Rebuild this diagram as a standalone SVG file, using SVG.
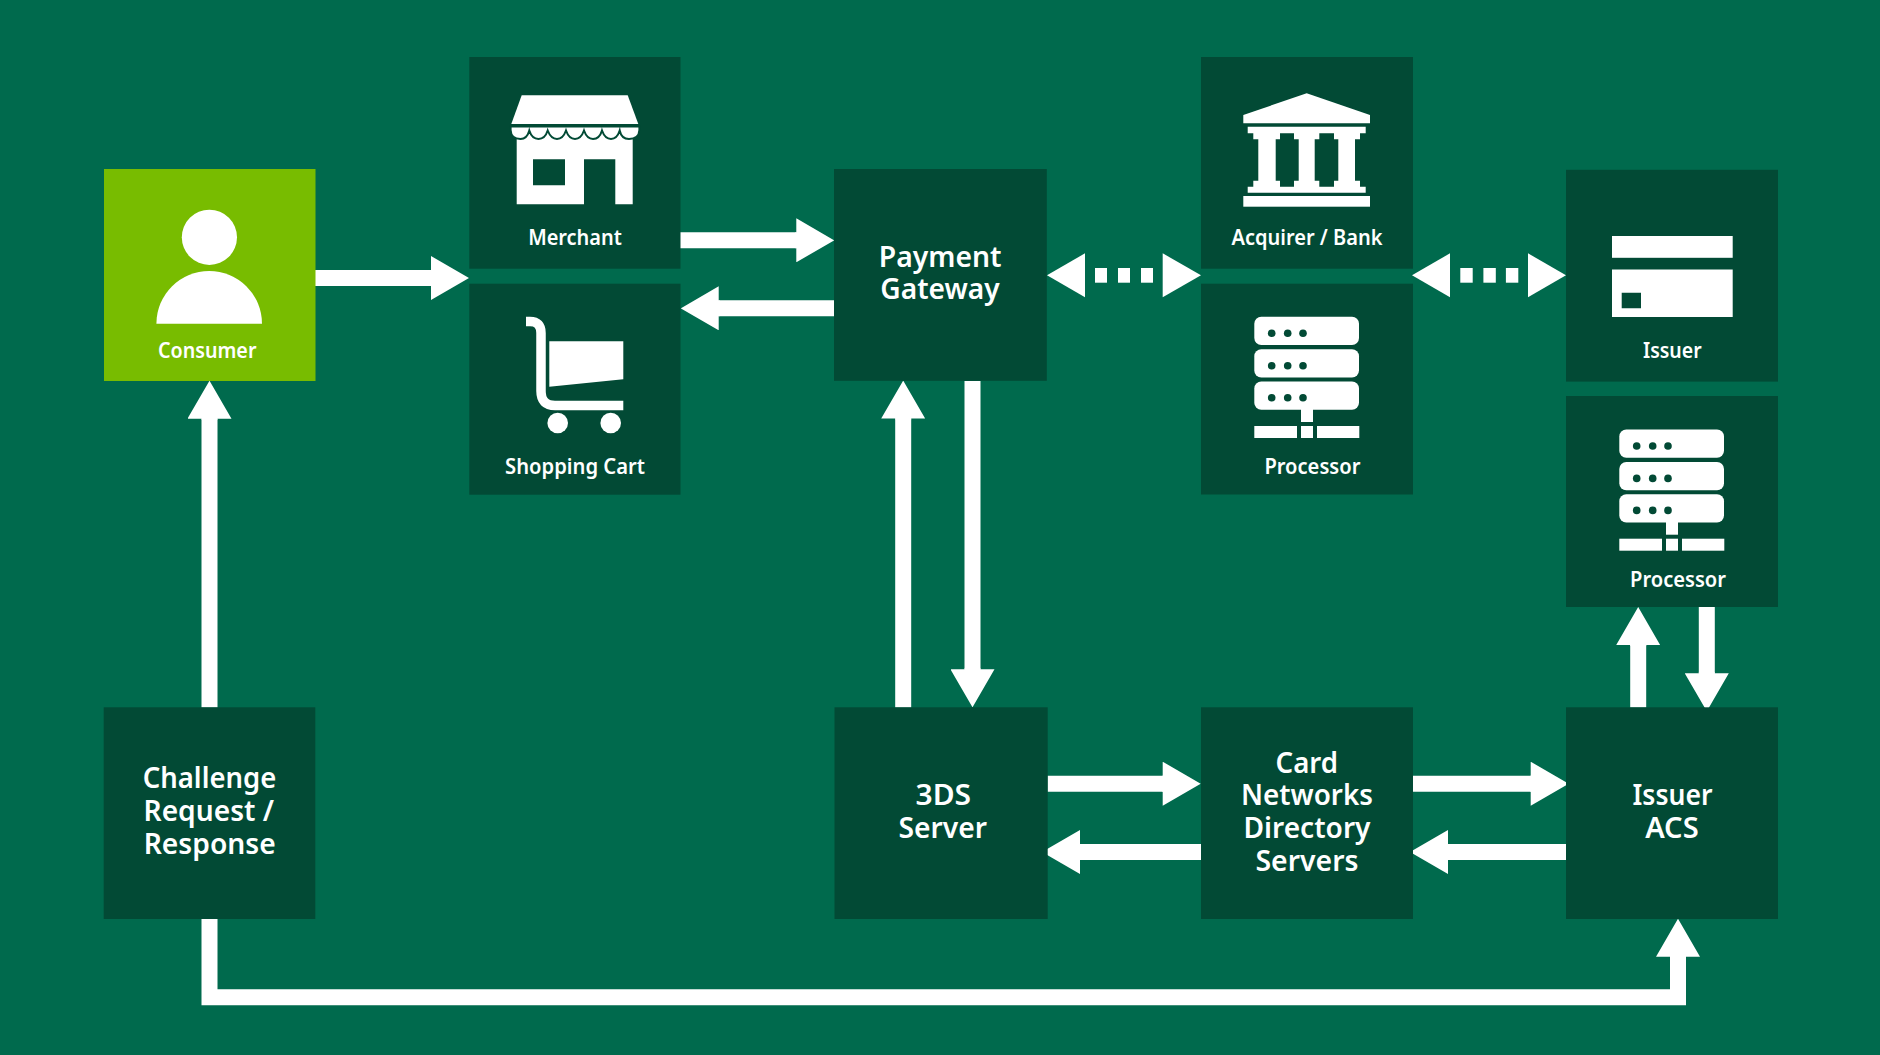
<svg xmlns="http://www.w3.org/2000/svg" width="1880" height="1055" viewBox="0 0 1880 1055">
<style>
.node{fill:#024A35}
.green{fill:#78BC00}
.ico{fill:#fff}
.hole{fill:#024A35}
.conn{stroke:#fff;stroke-width:16;fill:none;marker-end:url(#head)}
.dot{fill:#fff}
text{font-family:"Noto Sans","Open Sans","Liberation Sans",sans-serif;fill:#fff;text-anchor:middle;font-weight:600}
.s{font-size:21px}
.b{font-size:29px}
</style>
<defs>
<marker id="head" markerUnits="userSpaceOnUse" markerWidth="39" markerHeight="44" viewBox="0 0 39 44" refX="1" refY="22" orient="auto"><path d="M0 14H1V0L39 22L1 44V30H0Z" fill="#fff"/></marker>
<g id="server">
<rect class="ico" x="1254.3" y="316.7" width="104.7" height="28.3" rx="7"/>
<rect class="ico" x="1254.3" y="349.2" width="104.7" height="28.3" rx="7"/>
<rect class="ico" x="1254.3" y="381.5" width="104.7" height="28.3" rx="7"/>
<g class="hole">
<circle cx="1271.7" cy="333.3" r="3.8"/><circle cx="1287.7" cy="333.3" r="3.8"/><circle cx="1303" cy="333.3" r="3.8"/>
<circle cx="1271.7" cy="365.7" r="3.8"/><circle cx="1287.7" cy="365.7" r="3.8"/><circle cx="1303" cy="365.7" r="3.8"/>
<circle cx="1271.7" cy="397.7" r="3.8"/><circle cx="1287.7" cy="397.7" r="3.8"/><circle cx="1303" cy="397.7" r="3.8"/>
</g>
<rect class="ico" x="1301" y="409" width="12" height="13"/>
<rect class="ico" x="1254.3" y="426" width="42.7" height="12"/>
<rect class="ico" x="1301" y="426" width="12" height="12"/>
<rect class="ico" x="1317" y="426" width="42.3" height="12"/>
</g>
</defs>
<rect width="1880" height="1055" fill="#006A4D"/>
<g id="connectors">
<line class="conn" x1="315" y1="278" x2="431" y2="278"/>
<line class="conn" x1="680" y1="240.3" x2="796.3" y2="240.3"/>
<line class="conn" x1="834" y1="308.3" x2="718.7" y2="308.3"/>
<line class="conn" x1="903.2" y1="707.5" x2="903.2" y2="418.6"/>
<line class="conn" x1="972.5" y1="381" x2="972.5" y2="669.3"/>
<line class="conn" x1="1047.5" y1="783.7" x2="1162.7" y2="783.7"/>
<line class="conn" x1="1201" y1="852" x2="1080" y2="852"/>
<line class="conn" x1="1413" y1="783.7" x2="1530.7" y2="783.7"/>
<line class="conn" x1="1566" y1="852" x2="1448" y2="852"/>
<line class="conn" x1="1638.2" y1="707.5" x2="1638.2" y2="645"/>
<line class="conn" x1="1706.8" y1="607" x2="1706.8" y2="673.3"/>
<line class="conn" x1="209.5" y1="707.5" x2="209.5" y2="418.7"/>
<path class="conn" d="M209.5 919V997.3H1678V956.7"/>
<g id="dotted-gateway-acquirer">
<polygon class="dot" points="1085,253.3 1047,275.3 1085,297.3"/>
<rect class="dot" x="1095" y="268" width="12" height="14.7"/><rect class="dot" x="1118" y="268" width="12" height="14.7"/><rect class="dot" x="1141" y="268" width="12" height="14.7"/>
<polygon class="dot" points="1162.7,253.3 1201,275.3 1162.7,297.3"/>
</g>
<g id="dotted-acquirer-issuer">
<polygon class="dot" points="1450,253.3 1412,275.3 1450,297.3"/>
<rect class="dot" x="1460.3" y="268" width="12.4" height="14.7"/><rect class="dot" x="1483.4" y="268" width="12.4" height="14.7"/><rect class="dot" x="1505.9" y="268" width="12.4" height="14.7"/>
<polygon class="dot" points="1528,253.3 1566,275.3 1528,297.3"/>
</g>
</g>
<g id="consumer">
<rect class="green" x="104" y="169" width="211.5" height="212"/>
<circle class="ico" cx="209.4" cy="237.3" r="27.6"/>
<path class="ico" d="M156.4 323.7A52.8 52.7 0 0 1 262 323.7Z"/>
<text class="s" x="207.2" y="358" textLength="98.5" lengthAdjust="spacingAndGlyphs">Consumer</text>
</g>
<g id="merchant">
<rect class="node" x="469.3" y="57" width="211.2" height="211.7"/>
<path class="ico" d="M521.7 95.3H627.7L638.3 124H511.3Z"/>
<path class="ico" fill-rule="evenodd" d="M516.7 130H632.7V204.3H615.3V159.3H584V204.3H516.7ZM533 159.3V185.3H565V159.3Z"/>
<path class="ico" stroke="#024A35" stroke-width="2" d="M510.6 126.5H639.4V130Q639 139 629 139Q621.5 139 619.7 130.5Q617 139 611 139Q605 139 602 130.5Q599.5 139 593 139Q587 139 584 130.5Q581 139 575 139Q569 139 566 130.5Q563 139 557 139Q551 139 547.7 130.5Q545 139 538.5 139Q532 139 529.3 130.5Q527 139 520.5 139Q511 139 510.6 130Z"/>
<text class="s" x="575" y="245" textLength="93.7" lengthAdjust="spacingAndGlyphs">Merchant</text>
</g>
<g id="shopping-cart">
<rect class="node" x="469.3" y="283.7" width="211.2" height="211"/>
<path d="M526 321.5H530Q541 321.5 541 333V391Q541 405.5 555 405.5H623.3" fill="none" stroke="#fff" stroke-width="9.5"/>
<path class="ico" d="M549.3 341.3H623.3V379.3L549.3 386.7Z"/>
<circle class="ico" cx="557.7" cy="423" r="10.3"/>
<circle class="ico" cx="610.7" cy="423" r="10.3"/>
<text class="s" x="575" y="474" textLength="139.8" lengthAdjust="spacingAndGlyphs">Shopping Cart</text>
</g>
<g id="payment-gateway">
<rect class="node" x="834" y="169" width="212.8" height="211.8"/>
<text class="b" x="940.2" y="266.7" textLength="122.7" lengthAdjust="spacingAndGlyphs">Payment</text>
<text class="b" x="940" y="299" textLength="119.3" lengthAdjust="spacingAndGlyphs">Gateway</text>
</g>
<g id="acquirer-bank">
<rect class="node" x="1201" y="57" width="212" height="211.7"/>
<path class="ico" d="M1306.7 93.3L1370 115V123.3H1243.3V115Z"/>
<path class="ico" d="M1247.7 126.7H1365.7V133.3H1360V139.3H1355V180.7H1360V186.7H1365.7V192.7H1247.7V186.7H1253.3V180.7H1258.3V139.3H1253.3V133.3H1247.7Z"/>
<path class="hole" d="M1275.7 139.3H1280V133.3H1294V139.3H1298.7V180.7H1294V186.7H1280V180.7H1275.7Z"/>
<path class="hole" d="M1314.7 139.3H1319.3V133.3H1334V139.3H1338.3V180.7H1334V186.7H1319.3V180.7H1314.7Z"/>
<rect class="ico" x="1243.3" y="196" width="126.7" height="10.7"/>
<text class="s" x="1307" y="245" textLength="151" lengthAdjust="spacingAndGlyphs">Acquirer / Bank</text>
</g>
<g id="processor-acquirer">
<rect class="node" x="1201" y="283.7" width="212" height="210.8"/>
<use href="#server"/>
<text class="s" x="1312.4" y="473.8" textLength="96" lengthAdjust="spacingAndGlyphs">Processor</text>
</g>
<g id="issuer">
<rect class="node" x="1566" y="169.8" width="212" height="211.8"/>
<rect class="ico" x="1612" y="236" width="120.7" height="21.8"/>
<path class="ico" fill-rule="evenodd" d="M1612 269.5H1732.7V316.9H1612ZM1621.7 292.8V308.3H1641V292.8Z"/>
<text class="s" x="1672.3" y="357.9" textLength="58.7" lengthAdjust="spacingAndGlyphs">Issuer</text>
</g>
<g id="processor-issuer">
<rect class="node" x="1566" y="396" width="212" height="211"/>
<use href="#server" transform="translate(365 112.7)"/>
<text class="s" x="1678" y="587" textLength="96" lengthAdjust="spacingAndGlyphs">Processor</text>
</g>
<g id="challenge">
<rect class="node" x="103.7" y="707.3" width="211.6" height="211.7"/>
<text class="b" x="209.5" y="788" textLength="133.5" lengthAdjust="spacingAndGlyphs">Challenge</text>
<text class="b" x="208.8" y="821" textLength="130.5" lengthAdjust="spacingAndGlyphs">Request /</text>
<text class="b" x="209.7" y="853.6" textLength="132" lengthAdjust="spacingAndGlyphs">Response</text>
</g>
<g id="threeds-server">
<rect class="node" x="834.5" y="707.3" width="213.2" height="211.7"/>
<text class="b" x="943.3" y="805" textLength="55.5" lengthAdjust="spacingAndGlyphs">3DS</text>
<text class="b" x="942.8" y="838" textLength="88.5" lengthAdjust="spacingAndGlyphs">Server</text>
</g>
<g id="card-networks">
<rect class="node" x="1201" y="707.3" width="212" height="211.7"/>
<text class="b" x="1306.8" y="772.8" textLength="62.5" lengthAdjust="spacingAndGlyphs">Card</text>
<text class="b" x="1307" y="805.2" textLength="132" lengthAdjust="spacingAndGlyphs">Networks</text>
<text class="b" x="1307" y="838" textLength="127" lengthAdjust="spacingAndGlyphs">Directory</text>
<text class="b" x="1307" y="870.5" textLength="103" lengthAdjust="spacingAndGlyphs">Servers</text>
</g>
<g id="issuer-acs">
<rect class="node" x="1566" y="707.3" width="212" height="211.7"/>
<text class="b" x="1672.5" y="805.2" textLength="80" lengthAdjust="spacingAndGlyphs">Issuer</text>
<text class="b" x="1671.9" y="838" textLength="53.5" lengthAdjust="spacingAndGlyphs">ACS</text>
</g>
</svg>
